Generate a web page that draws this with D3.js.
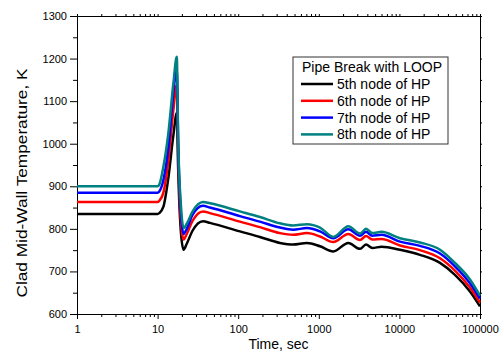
<!DOCTYPE html>
<html>
<head>
  <meta charset="utf-8">
  <title>Clad mid-wall temperature</title>
  <script src="https://d3js.org/d3.v7.min.js"></script>
  <style>
    body { margin: 0; background: #fff; }
    text { font-family: Arial, "Liberation Sans", sans-serif; }
  </style>
</head>
<body>
  <script>
    // time points (s) and temperatures (K)
    const times = [1, 10, 10.5, 11.8, 13.6, 15.7, 17.3, 18.0, 19.5, 21, 23, 27, 36.6, 44.6, 105, 186, 330, 479, 714, 1035, 1513, 2323, 3245, 3853, 4600, 6000, 10170, 18000, 31900, 48900, 75100, 100000]
    const node5 = [835, 835, 837, 852, 920, 1020, 1072, 940, 790, 751, 765, 795, 818, 814, 794, 781, 767, 763, 767, 759, 747, 767, 753, 763, 755, 758, 751, 739, 720, 692, 653, 618]
    const node6 = [863, 863, 866, 885, 960, 1080, 1138, 980, 815, 775, 788, 818, 841, 837, 817, 804, 790, 786, 790, 782, 769, 788, 774, 783, 775, 776, 761, 750, 731, 702, 662, 627]
    const node7 = [885, 885, 888, 915, 990, 1120, 1178, 1000, 835, 788, 800, 832, 854, 850, 830, 817, 803, 798, 802, 794, 778, 799, 784, 793, 784, 786, 770, 760, 742, 712, 672, 636]
    const node8 = [900, 900, 904, 946, 1025, 1142, 1204, 1009, 853, 802, 812, 840, 863, 860, 841, 828, 813, 808, 811, 803, 781, 806, 789, 800, 790, 793, 778, 768, 751, 720, 681, 643]
    const seriesNames = ["5th node of HP", "6th node of HP", "7th node of HP", "8th node of HP"]
    const seriesColors = ["#000000", "#ff0000", "#0000ff", "#008080"]
    const xMajor = [1, 10, 100, 1000, 10000, 100000]
    const yMajor = [600, 700, 800, 900, 1000, 1100, 1200, 1300]

    const width = 500, height = 358
    const margin = { left: 77, right: 20, top: 16, bottom: 44 }

    const svg = d3.select("body").append("svg")
      .attr("width", width)
      .attr("height", height)

    const x = d3.scaleLog().domain([1, 100000]).range([margin.left, width - margin.right])
    const y = d3.scaleLinear().domain([600, 1300]).range([height - margin.bottom, margin.top])

    // minor ticks: 2..9 in every decade, every 50 K
    const xMinor = []
    xMajor.slice(0, -1).forEach(d => { for (let k = 2; k < 10; k++) xMinor.push(d * k) })
    const yMinor = d3.range(650, 1300, 100)

    const styleAxis = g => {
      g.selectAll("path, line").attr("stroke", "#000")
      g.selectAll("text").attr("fill", "#000").style("font-size", "11px")
    }

    // bottom
    svg.append("g").attr("transform", `translate(0,${y(600)})`)
      .call(d3.axisBottom(x).tickValues(xMinor).tickSize(3).tickSizeOuter(0).tickFormat(""))
      .call(styleAxis)
    svg.append("g").attr("transform", `translate(0,${y(600)})`)
      .call(d3.axisBottom(x).tickValues(xMajor).tickSize(5).tickSizeOuter(0).tickPadding(6).tickFormat(d3.format("d")))
      .call(styleAxis)
    // top
    svg.append("g").attr("transform", `translate(0,${y(1300)})`)
      .call(d3.axisTop(x).tickValues(xMinor.concat(xMajor)).tickSize(2).tickSizeOuter(0).tickFormat(""))
      .call(styleAxis)
    // left
    svg.append("g").attr("transform", `translate(${x(1)},0)`)
      .call(d3.axisLeft(y).tickValues(yMinor).tickSize(4).tickSizeOuter(0).tickFormat(""))
      .call(styleAxis)
    svg.append("g").attr("transform", `translate(${x(1)},0)`)
      .call(d3.axisLeft(y).tickValues(yMajor).tickSize(7).tickSizeOuter(0).tickPadding(3).tickFormat(d3.format("d")))
      .call(styleAxis)
    // right
    svg.append("g").attr("transform", `translate(${x(100000)},0)`)
      .call(d3.axisRight(y).tickValues(yMinor.concat(yMajor)).tickSize(2).tickSizeOuter(0).tickFormat(""))
      .call(styleAxis)

    // axis titles
    svg.append("text")
      .attr("x", (x(1) + x(100000)) / 2)
      .attr("y", 349)
      .attr("text-anchor", "middle")
      .style("font-size", "14px")
      .text("Time, sec")

    svg.append("text")
      .attr("transform", `translate(27,${(y(600) + y(1300)) / 2 + 18}) rotate(-90)`)
      .attr("text-anchor", "middle")
      .attr("textLength", 229)
      .attr("lengthAdjust", "spacingAndGlyphs")
      .style("font-size", "14px")
      .text("Clad Mid-Wall Temperature, K")

    // curves
    const allSeries = [node5, node6, node7, node8]
    const line = d3.line()
      .x((d, i) => x(times[i]))
      .y(d => y(d))
      .curve(d3.curveMonotoneX)

    svg.selectAll(".series")
      .data(allSeries)
      .enter()
      .append("path")
      .attr("class", "series")
      .attr("d", d => line(d))
      .attr("fill", "none")
      .attr("stroke", (d, i) => seriesColors[i])
      .attr("stroke-width", 2.5)
      .attr("stroke-linejoin", "round")

    // legend
    const legend = svg.append("g").attr("transform", "translate(293,57)")
    legend.append("rect")
      .attr("width", 155)
      .attr("height", 87)
      .attr("fill", "#fff")
      .attr("stroke", "#333")
    legend.append("text")
      .attr("x", 9)
      .attr("y", 15)
      .style("font-size", "14px")
      .text("Pipe Break with LOOP")
    const rows = legend.selectAll(".row")
      .data(seriesNames)
      .enter()
      .append("g")
      .attr("class", "row")
      .attr("transform", (d, i) => `translate(0,${32 + i * 16.8})`)
    rows.append("line")
      .attr("x1", 8).attr("x2", 40)
      .attr("y1", -5).attr("y2", -5)
      .attr("stroke", (d, i) => seriesColors[i])
      .attr("stroke-width", 2.5)
    rows.append("text")
      .attr("x", 44)
      .attr("y", 0)
      .style("font-size", "14px")
      .text(d => d)
  </script>
</body>
</html>
